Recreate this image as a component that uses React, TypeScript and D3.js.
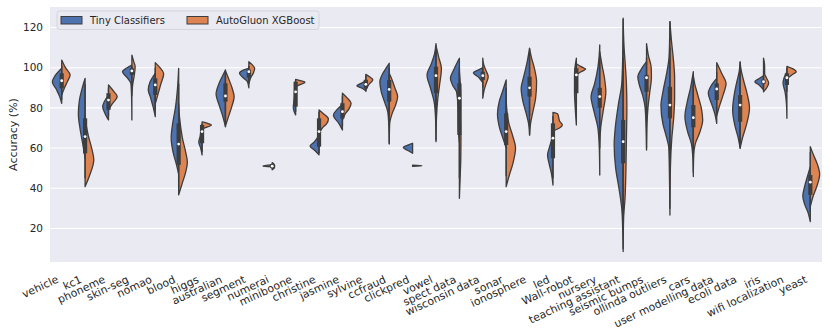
import React, { useEffect, useRef } from "react";
import * as d3 from "d3";

const categories = [
  "vehicle", "kc1", "phoneme", "skin-seg", "nomao", "blood", "higgs", "australian",
  "segment", "numerai", "miniboone", "christine", "jasmine", "sylvine", "ccfraud",
  "clickpred", "vowel", "spect data", "wisconsin data", "sonar", "ionosphere", "led",
  "Wall-robot", "nursery", "teaching assistant", "seismic bumps", "ollinda outliers",
  "cars", "user modelling data", "ecoli data", "iris", "wifi localization", "yeast",
];

const seriesNames = ["Tiny Classifiers", "AutoGluon XGBoost"];

// density profiles: [accuracy, relative density]
const tinyDensity: number[][][] = [
  [[82.3, 0], [86, 0.25], [89, 0.55], [93, 1.0], [96, 0.7], [99.7, 0]],
  [[55, 0], [62, 0.25], [70, 0.55], [77, 0.72], [84, 0.6], [90, 0.3], [94.7, 0]],
  [[74, 0], [77, 0.35], [80.6, 0.62], [83, 0.45], [86.4, 0]],
  [[74, 0], [85, 0.03], [92, 0.1], [95, 0.5], [98, 1.0], [100, 0.5], [101.3, 0]],
  [[75.6, 0], [80, 0.2], [85, 0.5], [89, 0.75], [93, 0.55], [97.2, 0]],
  [[47, 0], [52, 0.25], [58, 0.6], [65, 0.8], [72, 0.65], [80, 0.35], [90, 0.12], [99.7, 0]],
  [[56.6, 0], [60, 0.15], [63, 0.35], [66, 0.2], [70, 0.1], [72, 0]],
  [[70.6, 0], [76, 0.3], [81, 0.65], [87, 1.0], [92, 0.7], [96, 0.3], [98.9, 0]],
  [[90, 0], [93, 0.15], [95, 0.6], [97.2, 1.0], [98.8, 0.6], [99.7, 0]],
  [[50.6, 0], [51.1, 1.0], [51.6, 0]],
  [[76.5, 0], [80, 0.25], [85, 0.15], [90, 0.1], [93.9, 0]],
  [[56.6, 0], [59, 0.5], [61, 0.96], [63, 0.5], [66, 0.1], [70, 0]],
  [[69, 0], [72, 0.35], [76.5, 0.96], [79, 0.6], [81.5, 0.1], [83, 0]],
  [[88.5, 0], [90, 0.5], [91, 0.96], [92.2, 0.5], [93.5, 0]],
  [[62.4, 0], [72, 0.05], [78, 0.15], [83, 0.5], [88, 0.85], [93, 1.0], [97, 0.7], [100, 0.3], [102.2, 0]],
  [[57.4, 0], [59, 0.6], [60.3, 1.0], [61.5, 0.5], [62.4, 0]],
  [[63.2, 0], [75, 0.05], [83, 0.2], [90, 0.6], [96.4, 0.96], [102, 0.5], [107, 0.15], [112, 0]],
  [[63, 0], [70, 0.12], [80, 0.15], [88, 0.3], [91, 0.7], [94.7, 0.96], [99, 0.6], [104.7, 0]],
  [[92.5, 0], [95, 0.4], [97.5, 1.0], [98.8, 0.5], [100, 0]],
  [[60, 0], [65, 0.35], [70, 0.7], [77, 0.93], [83, 0.75], [88, 0.4], [93.9, 0]],
  [[66.5, 0], [72, 0.1], [77, 0.35], [83, 0.7], [89.7, 0.9], [96, 0.6], [103, 0.25], [109.7, 0]],
  [[41.6, 0], [47, 0.15], [52, 0.4], [56.6, 0.58], [60, 0.4], [64, 0.15], [67, 0]],
  [[71.5, 0], [80, 0.12], [88, 0.2], [95, 0.2], [100, 0.15], [104.7, 0]],
  [[46.6, 0], [60, 0.05], [70, 0.2], [78, 0.6], [85.6, 0.93], [92, 0.55], [100, 0.2], [106, 0.06], [111.3, 0]],
  [[8.5, 0], [20, 0.05], [30, 0.15], [40, 0.45], [50, 0.8], [61.5, 0.96], [72, 0.8], [82, 0.5], [92, 0.15], [105, 0.05], [124.6, 0]],
  [[59, 0], [70, 0.05], [80, 0.15], [86, 0.4], [92, 0.8], [95.5, 0.93], [99, 0.6], [103, 0]],
  [[26.7, 0], [45, 0.05], [60, 0.12], [66, 0.4], [72, 0.75], [81, 0.96], [88, 0.75], [96, 0.4], [105, 0.1], [115, 0.03], [122.9, 0]],
  [[45.8, 0], [55, 0.05], [62, 0.2], [68, 0.6], [75.6, 0.9], [83, 0.65], [90, 0.3], [98, 0]],
  [[72.3, 0], [77, 0.2], [82, 0.55], [87.3, 0.9], [91, 0.6], [94.7, 0]],
  [[59.9, 0], [65, 0.2], [71, 0.55], [79, 0.8], [86, 0.65], [93, 0.35], [98, 0.1], [103, 0]],
  [[89, 0], [91.5, 0.5], [93, 0.93], [94.5, 0.5], [96, 0]],
  [[74.8, 0], [82, 0.05], [88, 0.2], [92.2, 0.41], [95, 0.3], [98, 0]],
  [[23.4, 0], [28, 0.25], [32, 0.6], [36, 0.8], [41, 0.6], [46, 0.3], [50.7, 0]],
];

const xgbDensity: number[][][] = [
  [[86.4, 0], [90, 0.3], [93, 0.6], [96.4, 0.9], [100, 0.4], [103.8, 0]],
  [[40.8, 0], [46, 0.45], [54, 0.93], [60, 0.7], [66, 0.35], [72, 0.1], [76, 0]],
  [[79, 0], [82, 0.4], [85.6, 0.93], [88, 0.6], [91.4, 0]],
  [[86, 0], [92, 0.1], [96, 0.25], [100.5, 0.35], [103, 0.2], [106.3, 0]],
  [[82, 0], [87, 0.3], [92, 0.6], [97, 0.9], [100, 0.5], [102.5, 0]],
  [[36.7, 0], [42, 0.35], [48, 0.75], [53, 0.93], [58, 0.75], [65, 0.4], [75, 0.1], [82, 0]],
  [[69.5, 0], [70.5, 0.6], [71.5, 1.0], [72.3, 0.6], [73, 0]],
  [[71, 0], [76, 0.35], [81, 0.7], [85.5, 0.93], [90, 0.7], [95, 0.3], [98.5, 0]],
  [[92, 0], [95, 0.2], [97.5, 0.5], [99.7, 0.62], [101.5, 0.35], [103, 0]],
  [[49.2, 0], [50.5, 0.25], [51.5, 0.25], [52.8, 0]],
  [[90.5, 0], [91.8, 0.6], [92.8, 1.0], [93.5, 0.5], [94.2, 0]],
  [[67, 0], [70, 0.35], [72, 0.8], [74.5, 1.0], [77, 0.5], [79, 0]],
  [[74, 0], [77, 0.3], [79.5, 0.7], [82.3, 0.93], [85, 0.5], [87.3, 0]],
  [[89, 0], [91.5, 0.3], [94, 0.75], [95.5, 0.4], [96.7, 0]],
  [[62, 0], [72, 0.05], [77, 0.3], [81, 0.65], [85.6, 0.9], [90, 0.6], [94, 0.3], [97.2, 0]],
  [[50.9, 0], [51.2, 1.0], [51.5, 0]],
  [[64, 0], [75, 0.05], [85, 0.2], [92, 0.4], [99.7, 0.58], [105, 0.3], [111, 0]],
  [[35, 0], [45, 0.08], [55, 0.15], [65, 0.17], [75, 0.15], [85, 0.15], [92, 0.1], [98, 0]],
  [[84.8, 0], [89, 0.15], [92, 0.35], [95.5, 0.58], [98.5, 0.35], [101.5, 0.1], [104.7, 0]],
  [[40.8, 0], [46, 0.3], [52, 0.7], [60, 1.0], [66, 0.7], [72, 0.3], [80, 0.05], [85, 0]],
  [[66.5, 0], [72, 0.1], [78, 0.35], [85, 0.65], [93, 0.75], [100, 0.5], [105, 0.2], [109.5, 0]],
  [[68.5, 0], [70, 0.7], [71.5, 1.0], [73.5, 0.7], [75.5, 0.6], [77, 0.5], [77.8, 0]],
  [[96.5, 0], [98, 0.5], [99.3, 1.0], [100.5, 0.5], [102, 0]],
  [[60, 0], [70, 0.1], [78, 0.35], [88, 0.65], [95, 0.5], [101, 0.25], [108, 0]],
  [[10, 0], [25, 0.05], [35, 0.2], [50, 0.3], [65, 0.35], [80, 0.4], [92, 0.35], [100, 0.25], [110, 0.1], [124, 0]],
  [[60, 0], [72, 0.05], [80, 0.15], [88, 0.35], [95, 0.52], [100, 0.5], [106, 0.2], [112, 0]],
  [[30, 0], [50, 0.05], [65, 0.2], [75, 0.4], [85, 0.5], [95, 0.5], [105, 0.35], [114, 0.15], [122.9, 0]],
  [[48, 0], [57, 0.05], [62, 0.2], [68, 0.7], [74, 1.0], [80, 0.85], [86, 0.5], [92, 0.15], [96, 0]],
  [[76, 0], [81, 0.3], [86, 0.65], [92.2, 1.0], [97, 0.55], [102.5, 0]],
  [[60, 0], [65, 0.25], [72, 0.7], [80, 1.0], [87, 0.75], [94, 0.35], [99, 0.1], [102.5, 0]],
  [[88, 0], [90, 0.35], [92.4, 0.55], [95, 0.3], [97, 0.12], [100, 0.12], [102, 0.1], [104.7, 0]],
  [[94.5, 0], [96.5, 0.55], [98, 1.0], [99.3, 0.7], [100.7, 0]],
  [[30.8, 0], [36, 0.3], [41, 0.7], [47, 1.0], [52, 0.75], [57, 0.3], [60.7, 0]],
];

// inner box of both series together: [whisker low, q1, median, q3, whisker high]
const boxStats: (number[] | null)[] = [
  [84, 89.7, 93.5, 97.2, 101], [45, 57.4, 65.7, 74.8, 92], [76, 79, 83.9, 87.3, 90],
  [94, 96.4, 98.4, 99.7, 101], [79, 86.4, 91.4, 94.7, 100], [40, 51.6, 62, 72.3, 92],
  [58, 62.4, 68.2, 71.5, 72], [74, 83.1, 85.9, 92.2, 97], [93, 95, 98, 99, 101],
  [49.5, 50, 51, 52, 52.5], [78, 80.6, 88, 93, 93.5], [57.5, 60.7, 68.2, 74.8, 78],
  [71, 74.8, 78.1, 82.3, 86], [88, 89.7, 91.7, 94, 96], [76, 83.1, 89.2, 93.9, 100],
  null, [75, 87.3, 96, 100.5, 108], [45, 66.5, 84.8, 92.2, 100],
  [90, 93.9, 96, 98, 100], [46, 61.5, 68.2, 77.3, 90], [76, 85.6, 90, 95.5, 105],
  [45, 54.9, 64.9, 72.3, 76], [82, 87.3, 96.4, 99.7, 102], [70, 80.1, 85.6, 90, 103],
  [25, 52.4, 63.2, 74, 105], [80, 88, 95, 96.4, 105], [55, 74.8, 81.4, 90.5, 110],
  [60, 70.3, 75.1, 81.4, 91], [78, 83.9, 89.4, 92.2, 98], [63, 73.1, 81.4, 86.4, 98],
  [90, 92, 93, 94, 96], [88, 91.4, 95, 97.2, 100], [28, 36.7, 43, 46.6, 58],
];

const yTicks = [20, 40, 60, 80, 100, 120];

export default function App() {
  const svgRef = useRef<SVGSVGElement>(null);

  useEffect(() => {
    const width = 830;
    const height = 331;
    const margin = { top: 7, right: 8, bottom: 69, left: 50 };
    const font = "DejaVu Sans, sans-serif";
    const textColor = "#262626";
    const edge = "#3d3d3d";
    const colors = ["#4C72B0", "#DD8452"];

    const svg = d3.select(svgRef.current).attr("width", width).attr("height", height);
    svg.selectAll("*").remove();

    const x = d3
      .scaleBand()
      .domain(categories)
      .range([margin.left, width - margin.right])
      .padding(0);

    const y = d3
      .scaleLinear()
      .domain([3.3, 130.2])
      .range([height - margin.bottom, margin.top]);

    svg
      .append("rect")
      .attr("x", margin.left)
      .attr("y", margin.top)
      .attr("width", width - margin.left - margin.right)
      .attr("height", height - margin.top - margin.bottom)
      .attr("fill", "#EAEAF2");

    svg
      .append("g")
      .selectAll("line")
      .data(yTicks)
      .join("line")
      .attr("x1", margin.left)
      .attr("x2", width - margin.right)
      .attr("y1", (d) => y(d))
      .attr("y2", (d) => y(d))
      .attr("stroke", "white")
      .attr("stroke-width", 1.1);

    svg
      .append("g")
      .selectAll("text")
      .data(yTicks)
      .join("text")
      .attr("x", margin.left - 7)
      .attr("y", (d) => y(d))
      .attr("dy", "0.35em")
      .attr("text-anchor", "end")
      .attr("font-family", font)
      .attr("font-size", 10.5)
      .attr("fill", textColor)
      .text((d) => d);

    svg
      .append("text")
      .attr("transform", `translate(13, ${(y.range()[0] + y.range()[1]) / 2}) rotate(-90)`)
      .attr("text-anchor", "middle")
      .attr("dy", "0.35em")
      .attr("font-family", font)
      .attr("font-size", 11)
      .attr("fill", textColor)
      .text("Accuracy (%)");

    const bw = x.bandwidth();
    const halfWidth = bw * 0.4;
    const center = (c: string) => (x(c) as number) + bw / 2;

    const halves = [tinyDensity, xgbDensity];
    halves.forEach((profiles, s) => {
      const side = s === 0 ? -1 : 1;
      svg
        .append("g")
        .selectAll("path")
        .data(categories)
        .join("path")
        .attr("d", (c, i) => {
          const cx = center(c);
          const pts = profiles[i].slice().sort((a, b) => b[0] - a[0]);
          return d3
            .area<number[]>()
            .curve(d3.curveMonotoneY)
            .y((d) => y(d[0]))
            .x0(cx)
            .x1((d) => cx + side * d[1] * halfWidth)(pts);
        })
        .attr("fill", colors[s])
        .attr("stroke", edge)
        .attr("stroke-width", 1.3)
        .attr("stroke-linejoin", "round");
    });

    const boxes = svg
      .append("g")
      .selectAll("g")
      .data(categories.filter((c, i) => boxStats[i]))
      .join("g");

    boxes
      .append("line")
      .attr("x1", (c) => center(c))
      .attr("x2", (c) => center(c))
      .attr("y1", (c) => y(boxStats[categories.indexOf(c)]![0]))
      .attr("y2", (c) => y(boxStats[categories.indexOf(c)]![4]))
      .attr("stroke", edge)
      .attr("stroke-width", 1.4);

    boxes
      .append("line")
      .attr("x1", (c) => center(c))
      .attr("x2", (c) => center(c))
      .attr("y1", (c) => y(boxStats[categories.indexOf(c)]![1]))
      .attr("y2", (c) => y(boxStats[categories.indexOf(c)]![3]))
      .attr("stroke", edge)
      .attr("stroke-width", 4.2);

    boxes
      .append("circle")
      .attr("cx", (c) => center(c))
      .attr("cy", (c) => y(boxStats[categories.indexOf(c)]![2]))
      .attr("r", 1.4)
      .attr("fill", "white");

    svg
      .append("g")
      .selectAll("text")
      .data(categories)
      .join("text")
      .attr("transform", (c) => `translate(${center(c) - 2.5}, ${height - margin.bottom + 20}) rotate(-25)`)
      .attr("text-anchor", "end")
      .attr("font-family", font)
      .attr("font-size", 10.8)
      .attr("fill", textColor)
      .text((c) => c);

    // legend
    const legend = svg.append("g").attr("transform", "translate(57, 11)");
    legend
      .append("rect")
      .attr("width", 262)
      .attr("height", 18.5)
      .attr("rx", 2.5)
      .attr("fill", "#EAEAF2")
      .attr("stroke", "#cfcfd6")
      .attr("stroke-width", 0.8);

    const items = legend
      .selectAll("g")
      .data(seriesNames)
      .join("g")
      .attr("transform", (d, i) => `translate(${i === 0 ? 4 : 130}, 0)`);

    items
      .append("rect")
      .attr("x", 0)
      .attr("y", 5.5)
      .attr("width", 21)
      .attr("height", 7.5)
      .attr("fill", (d, i) => colors[i])
      .attr("stroke", edge)
      .attr("stroke-width", 1);

    items
      .append("text")
      .attr("x", 29)
      .attr("y", 9.5)
      .attr("dy", "0.35em")
      .attr("font-family", font)
      .attr("font-size", 10)
      .attr("fill", textColor)
      .text((d) => d);
  }, []);

  return (
    <div style={{ position: "absolute", left: 0, top: 0 }}>
      <svg ref={svgRef}></svg>
    </div>
  );
}
